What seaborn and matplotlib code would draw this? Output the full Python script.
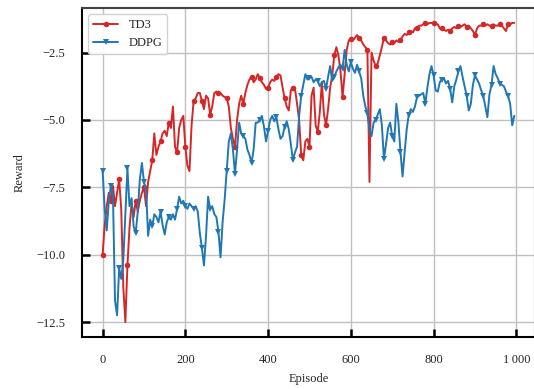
#! /usr/bin/env python3

import numpy as np
import pandas as pd
import seaborn as sns
import matplotlib
matplotlib.use('Agg')

import matplotlib.pyplot as plt

# episodes sampled every 5
episodes = np.arange(0, 1000, 5)

td3_reward = [
    -10.0, -8.9, -8.2, -7.7, -8.0, -7.45, -8.2, -7.7, -7.2, -8.3,
    -11.2, -12.5, -10.4, -9.0, -8.1, -8.6, -8.0, -8.4, -8.0, -7.7,
    -7.5, -8.2, -7.3, -6.9, -6.5, -5.5, -6.3, -6.0, -5.8, -5.5,
    -5.4, -5.6, -5.1, -5.3, -4.5, -6.0, -6.2, -5.3, -5.0, -4.85,
    -6.0, -6.7, -6.9, -5.2, -4.3, -4.2, -4.0, -4.0, -4.3, -4.6,
    -4.1, -4.2, -4.8, -4.5, -4.0, -3.95, -4.0, -4.0, -4.1, -4.15,
    -4.2, -4.5, -5.3, -5.7, -6.0, -5.0, -4.4, -4.1, -4.4, -4.0,
    -3.7, -3.5, -3.4, -3.6, -3.5, -3.3, -3.45, -3.6, -3.7, -3.85,
    -3.8, -3.6, -3.5, -3.55, -3.4, -3.3, -3.35, -3.8, -4.2, -4.5,
    -4.65, -3.9, -3.8, -3.85, -4.4, -5.0, -6.3, -6.5, -5.8, -5.7,
    -6.0, -4.1, -3.8, -5.2, -5.45, -4.7, -3.6, -4.8, -5.2, -4.6,
    -3.8, -3.35, -2.6, -2.3, -2.6, -3.2, -4.15, -3.3, -2.4, -2.05,
    -2.0, -2.05, -1.95, -1.85, -1.95, -2.05, -2.2, -2.3, -2.4, -7.3,
    -2.5, -2.8, -3.0, -2.9, -2.6, -2.3, -1.95, -2.05, -2.15, -2.2,
    -2.1, -2.15, -2.05, -2.1, -2.05, -1.9, -1.8, -1.85, -1.75, -1.7,
    -1.75, -1.6, -1.6, -1.5, -1.5, -1.45, -1.4, -1.45, -1.4, -1.4,
    -1.4, -1.45, -1.45, -1.6, -1.6, -1.65, -1.7, -1.65, -1.7, -1.6,
    -1.55, -1.6, -1.5, -1.55, -1.5, -1.45, -1.55, -1.5, -1.6, -1.7,
    -1.85, -1.6, -1.5, -1.5, -1.45, -1.5, -1.45, -1.5, -1.5, -1.45,
    -1.5, -1.5, -1.45, -1.5, -1.6, -1.7, -1.45, -1.45, -1.4, -1.4,
]

ddpg_reward = [
    -6.9, -8.3, -9.1, -8.0, -7.45, -7.8, -11.7, -12.25, -10.5, -10.9,
    -10.2, -8.5, -6.8, -8.2, -7.9, -8.95, -9.2, -8.4, -7.2, -6.6,
    -7.3, -7.6, -9.3, -8.7, -8.95, -8.5, -8.6, -8.8, -8.4, -8.9,
    -9.25, -8.8, -8.6, -8.7, -8.5, -8.7, -8.3, -7.85, -8.1, -8.0,
    -8.2, -8.3, -8.1, -8.2, -8.3, -8.2, -8.4, -9.2, -9.75, -10.4,
    -9.3, -7.85, -8.3, -8.2, -8.5, -8.6, -9.15, -10.1, -8.8, -7.95,
    -6.9, -5.8, -5.5, -6.1, -7.0, -6.1, -5.1, -5.5, -5.6, -5.7,
    -6.1, -6.3, -6.6, -6.1, -5.1, -5.1, -5.0, -4.85, -5.25, -5.8,
    -5.4, -5.0, -4.85, -5.05, -4.9, -5.35, -5.7, -5.6, -5.25, -5.05,
    -5.35, -5.9, -6.5, -6.2, -6.0, -4.85, -4.1, -3.7, -3.3, -3.5,
    -3.45, -3.4, -3.6, -3.5, -3.55, -3.75, -3.6, -3.55, -3.85, -3.4,
    -3.0, -3.55, -3.4, -3.2, -3.05, -2.95, -3.1, -2.4, -2.95, -3.2,
    -2.85, -3.1, -3.25, -2.95, -3.2, -3.45, -4.1, -4.5, -4.75, -5.35,
    -5.6, -5.1, -5.0, -4.8, -4.6, -5.2, -6.45, -5.9, -5.3, -5.1,
    -5.6, -5.8, -4.4, -5.1, -6.2, -7.1, -6.2, -5.35, -4.8, -4.6,
    -4.7, -4.5, -4.15, -4.1, -4.05, -4.0, -4.4, -3.8, -3.3, -3.0,
    -3.35, -3.9, -3.95, -3.6, -3.5, -3.45, -3.65, -3.55, -3.85, -4.35,
    -3.75, -3.5, -3.2, -3.0, -3.4, -3.75, -4.1, -4.65, -4.4, -3.7,
    -3.35, -3.5, -3.65, -3.9, -4.1, -4.5, -4.9, -4.05, -3.7, -3.0,
    -3.3, -3.45, -3.65, -3.7, -3.75, -3.95, -4.1, -4.4, -5.2, -4.85,
]


def main():
    sns.set_style('whitegrid')
    plt.rcParams['font.family'] = ['Liberation Serif', 'DejaVu Serif']
    plt.rcParams['axes.unicode_minus'] = True

    df = pd.DataFrame({'episode': episodes, 'TD3': td3_reward, 'DDPG': ddpg_reward})

    fig = plt.figure(figsize=(5.34, 3.89), dpi=100)
    ax = fig.add_axes([0.1536, 0.1337, 0.848, 0.8458])

    sns.lineplot(data=df, x='episode', y='TD3', ax=ax, color='#d62728', marker='o',
                 markersize=4, markeredgewidth=0, markevery=4, linewidth=1.4, label='TD3')
    sns.lineplot(data=df, x='episode', y='DDPG', ax=ax, color='#1f77b4', marker='v',
                 markersize=5, markeredgewidth=0, markevery=4, linewidth=1.4, label='DDPG')

    ax.set_xticks([0, 200, 400, 600, 800, 1000])
    ax.set_xticklabels(['0', '200', '400', '600', '800', '1\u2009000'])
    ax.set_yticks([-2.5, -5.0, -7.5, -10.0, -12.5])
    ax.set_xlabel('Episode', fontsize=9, labelpad=5)
    ax.set_ylabel('Reward', fontsize=9, labelpad=8)

    ax.grid(True, color='#c0c0c0', linewidth=1)
    ax.tick_params(axis='both', direction='in', length=6, width=1.8, color='black',
                   labelsize=9, pad=12, left=True, bottom=True)
    for side in ['left', 'bottom']:
        ax.spines[side].set_color('black')
        ax.spines[side].set_linewidth(1.5)
    for side in ['top', 'right']:
        ax.spines[side].set_color('#444444')
        ax.spines[side].set_linewidth(1.5)

    leg = ax.legend(loc='upper left', fontsize=9, frameon=True, fancybox=True)
    leg.get_frame().set_edgecolor('#cccccc')
    leg.get_frame().set_alpha(0.9)

    plt.savefig('out.png', dpi=100)


if __name__ == '__main__':
    main()
